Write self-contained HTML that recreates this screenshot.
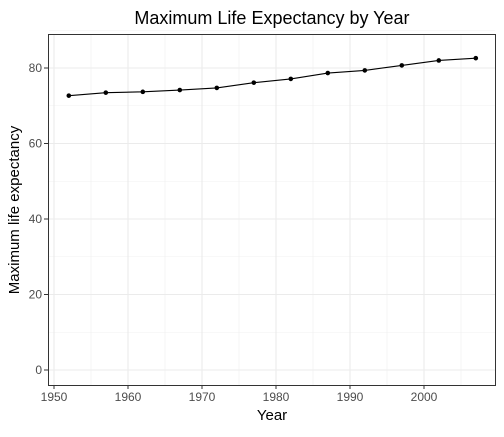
<!DOCTYPE html>
<html><head><meta charset="utf-8"><style>body{margin:0;background:#fff}svg{font-family:"Liberation Sans",sans-serif}</style></head>
<body>
<svg width="504" height="432">
<text x="272" y="24" font-size="18" text-anchor="middle">Maximum Life Expectancy by Year</text>
<g id="grid"></g>
<g id="axes"></g>
<g id="marks"></g>
<rect x="48.5" y="34.5" width="447" height="351" fill="none" stroke="#333" stroke-width="1"/>
<text x="272" y="420" font-size="15" text-anchor="middle">Year</text>
<text transform="translate(19,210) rotate(-90)" font-size="15" text-anchor="middle">Maximum life expectancy</text>
</svg>
<script>
const years=[1952,1957,1962,1967,1972,1977,1982,1987,1992,1997,2002,2007];
const maxLife=[72.67,73.47,73.68,74.16,74.72,76.11,77.11,78.67,79.36,80.69,82.0,82.6];
const xTicks=[1950,1960,1970,1980,1990,2000];
const yTicks=[0,20,40,60,80];
const ns="http://www.w3.org/2000/svg";
const X=v=>54+(v-1950)*7.4, Y=v=>370-v*3.775;
function mk(t,a,p){const e=document.createElementNS(ns,t);for(const k in a)e.setAttribute(k,a[k]);p.appendChild(e);return e;}
const g=document.getElementById('grid'),ax=document.getElementById('axes'),m=document.getElementById('marks');
for(let v=1955;v<=2005;v+=10){const l=mk('line',{x1:X(v),x2:X(v),y1:35,y2:385,stroke:'#f0f0f0','stroke-width':0.6},g);

}
for(let v=10;v<=90;v+=20){const l=mk('line',{x1:49,x2:495,y1:Y(v),y2:Y(v),stroke:'#f0f0f0','stroke-width':0.6},g);

}
xTicks.forEach(v=>{const l=mk('line',{x1:X(v),x2:X(v),y1:35,y2:385,stroke:'#ebebeb','stroke-width':1.1},g);


const t=mk('line',{x1:X(v),x2:X(v),y1:385,y2:389,stroke:'#333'},ax);


const s=mk('text',{x:X(v),y:401,'font-size':12,fill:'#4d4d4d','text-anchor':'middle'},ax);s.textContent=v;

});
yTicks.forEach(v=>{const l=mk('line',{x1:49,x2:495,y1:Y(v),y2:Y(v),stroke:'#ebebeb','stroke-width':1.1},g);


const t=mk('line',{x1:44,x2:48,y1:Y(v),y2:Y(v),stroke:'#333'},ax);


const s=mk('text',{x:42,y:Y(v)+4,'font-size':12,fill:'#4d4d4d','text-anchor':'end'},ax);s.textContent=v;

});
const line=mk('polyline',{points:years.map((y,i)=>X(y)+','+Y(maxLife[i])).join(' '),fill:'none',stroke:'#000','stroke-width':1.1},m);


years.forEach((y,i)=>{const c=mk('circle',{cx:X(y),cy:Y(maxLife[i]),r:2.3,fill:'#000'},m);

});
</script>
</body></html>
